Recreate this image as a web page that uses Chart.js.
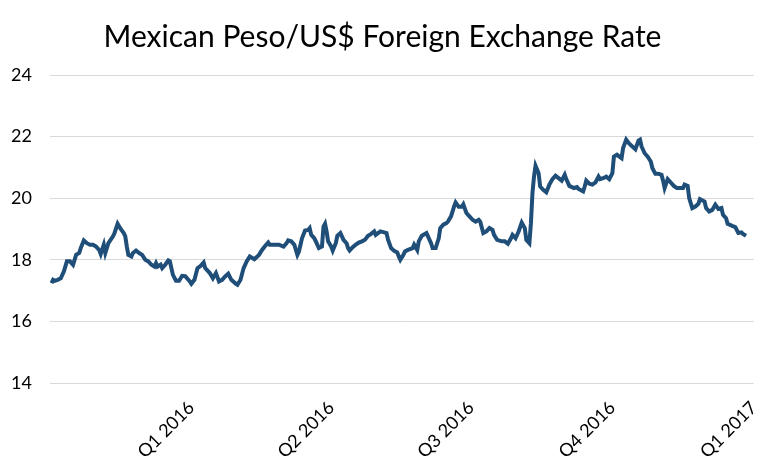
<!DOCTYPE html>
<html>
<head>
<meta charset="utf-8">
<script src="https://cdn.jsdelivr.net/npm/chart.js@4.4.1/dist/chart.umd.min.js"></script>
<style>
  body { margin: 0; background: #ffffff; }
  #wrap { width: 775px; height: 469px; }
</style>
</head>
<body>
<div id="wrap"><canvas id="fxChart" width="775" height="469"></canvas></div>
<script>
// days counted from 1 Oct 2015
var dayIndex = [
  1, 2, 3, 5, 7, 9, 11, 13, 15, 17, 19, 20, 22, 24, 26, 28, 30, 32, 33, 35,
  36, 38, 41, 42, 44, 46, 48, 49, 50, 51, 53, 54, 56, 58, 60, 62, 64, 66, 68, 69,
  70, 72, 73, 75, 77, 78, 80, 82, 84, 86, 88, 91, 92, 94, 96, 98, 100, 101, 104, 106,
  108, 110, 112, 114, 116, 118, 121, 122, 124, 126, 128, 130, 133, 136, 138, 140, 142, 143, 146, 149,
  152, 154, 155, 157, 159, 161, 162, 164, 166, 168, 169, 170, 172, 173, 175, 177, 178, 179, 180, 181,
  183, 184, 186, 187, 189, 191, 193, 194, 195, 197, 199, 201, 203, 205, 207, 209, 211, 212, 215, 217,
  219, 220, 222, 224, 226, 227, 228, 230, 231, 233, 236, 237, 239, 240, 242, 245, 246, 248, 249, 251,
  253, 254, 256, 258, 259, 261, 263, 264, 266, 268, 269, 271, 273, 275, 277, 279, 280, 282, 284, 286,
  288, 289, 291, 294, 296, 298, 300, 301, 303, 305, 307, 309, 310, 312, 313, 314, 315, 316, 318, 319,
  321, 323, 325, 327, 329, 331, 333, 335, 336, 338, 341, 343, 344, 347, 348, 349, 351, 353, 355, 357,
  358, 360, 362, 364, 366, 367, 369, 372, 373, 375, 377, 379, 381, 383, 384, 385, 387, 389, 391, 392,
  394, 396, 398, 399, 400, 402, 404, 406, 408, 410, 412, 413, 415, 416, 418, 420, 422, 423, 426, 427,
  429, 431, 433, 435, 437, 438, 440, 441, 444, 446, 448, 450, 451, 453
];

var pesoRate = [
  17.24, 17.35, 17.32, 17.35, 17.40, 17.62, 17.95, 17.95, 17.84, 18.16, 18.22, 18.38, 18.63, 18.54, 18.49, 18.49, 18.43, 18.32, 18.19, 18.49,
  18.22, 18.54, 18.76, 18.87, 19.17, 19.00, 18.87, 18.76, 18.43, 18.16, 18.11, 18.22, 18.30, 18.22, 18.16, 18.00, 17.95, 17.84, 17.78, 17.89,
  17.78, 17.84, 17.73, 17.84, 17.98, 17.95, 17.51, 17.32, 17.32, 17.48, 17.47, 17.30, 17.22, 17.35, 17.73, 17.80, 17.91, 17.73, 17.57, 17.40,
  17.57, 17.30, 17.35, 17.46, 17.55, 17.35, 17.22, 17.19, 17.35, 17.73, 17.95, 18.11, 18.02, 18.16, 18.32, 18.45, 18.56, 18.49, 18.49, 18.49,
  18.43, 18.54, 18.63, 18.60, 18.49, 18.16, 18.27, 18.70, 18.95, 18.97, 19.03, 18.81, 18.70, 18.60, 18.38, 18.43, 19.08, 19.17, 18.92, 18.60,
  18.43, 18.30, 18.54, 18.78, 18.87, 18.65, 18.54, 18.38, 18.30, 18.41, 18.49, 18.56, 18.60, 18.65, 18.78, 18.84, 18.92, 18.81, 18.92, 18.90,
  18.87, 18.65, 18.38, 18.29, 18.24, 18.11, 18.00, 18.16, 18.27, 18.32, 18.38, 18.49, 18.32, 18.60, 18.78, 18.87, 18.76, 18.54, 18.38, 18.38,
  18.70, 19.03, 19.14, 19.19, 19.24, 19.41, 19.73, 19.86, 19.72, 19.72, 19.80, 19.52, 19.41, 19.30, 19.24, 19.30, 19.24, 18.87, 18.92, 19.03,
  18.97, 18.81, 18.65, 18.60, 18.60, 18.52, 18.70, 18.81, 18.70, 18.92, 19.21, 19.03, 18.65, 18.54, 19.19, 20.17, 20.70, 21.05, 20.81, 20.38,
  20.27, 20.19, 20.44, 20.62, 20.73, 20.65, 20.57, 20.76, 20.62, 20.40, 20.33, 20.36, 20.30, 20.22, 20.38, 20.57, 20.47, 20.44, 20.51, 20.70,
  20.62, 20.65, 20.70, 20.62, 20.81, 21.35, 21.41, 21.30, 21.63, 21.90, 21.77, 21.68, 21.59, 21.87, 21.90, 21.68, 21.46, 21.35, 21.19, 20.98,
  20.79, 20.79, 20.76, 20.57, 20.33, 20.62, 20.51, 20.40, 20.33, 20.33, 20.33, 20.44, 20.40, 20.00, 19.68, 19.73, 19.82, 19.97, 19.89, 19.68,
  19.57, 19.62, 19.79, 19.65, 19.68, 19.46, 19.35, 19.17, 19.10, 19.06, 18.87, 18.89, 18.84, 18.78
];

var quarterDays = [92, 183, 274, 366, 458];
var quarterLabels = ['Q1 2016', 'Q2 2016', 'Q3 2016', 'Q4 2016', 'Q1 2017'];

var yTicks = [14, 16, 18, 20, 22, 24];

var points = [];
for (var i = 0; i < dayIndex.length; i++) {
    points.push({ x: dayIndex[i], y: pesoRate[i] });
}

const data = {
    datasets: [{
        label: 'MXN per USD',
        data: points,
        borderColor: '#1F4E79',
        borderWidth: 4,
        pointRadius: 0,
        tension: 0,
        fill: false
    }]
};

const config = {
    type: 'line',
    data: data,
    options: {
        responsive: false,
        animation: false,
        layout: {
            padding: { left: 0, right: 10, top: 6, bottom: 0 }
        },
        plugins: {
            legend: { display: false },
            tooltip: { enabled: false },
            title: {
                display: true,
                text: 'Mexican Peso/US$ Foreign Exchange Rate',
                color: '#000000',
                font: { family: 'Lato', size: 30, weight: 'normal' },
                padding: { top: 13, bottom: 20 }
            }
        },
        scales: {
            x: {
                type: 'linear',
                min: 0,
                max: 458,
                afterBuildTicks: function(scale) {
                    scale.ticks = quarterDays.map(function(d) { return { value: d }; });
                },
                afterFit: function(scale) {
                    scale.height = 86;
                },
                ticks: {
                    autoSkip: false,
                    minRotation: 45,
                    maxRotation: 45,
                    padding: 6,
                    color: '#000000',
                    font: { family: 'Lato', size: 18 },
                    callback: function(value) {
                        return quarterLabels[quarterDays.indexOf(value)];
                    }
                },
                grid: { display: false },
                border: { display: false }
            },
            y: {
                min: 14,
                max: 24,
                afterBuildTicks: function(scale) {
                    scale.ticks = yTicks.map(function(v) { return { value: v }; });
                },
                afterFit: function(scale) {
                    scale.width = 50;
                },
                ticks: {
                    padding: 18,
                    color: '#000000',
                    font: { family: 'Lato', size: 18 }
                },
                grid: {
                    color: '#D9D9D9',
                    lineWidth: 1,
                    drawTicks: false
                },
                border: { display: false }
            }
        }
    }
};

var myChart = new Chart(document.getElementById('fxChart'), config);
</script>
</body>
</html>
